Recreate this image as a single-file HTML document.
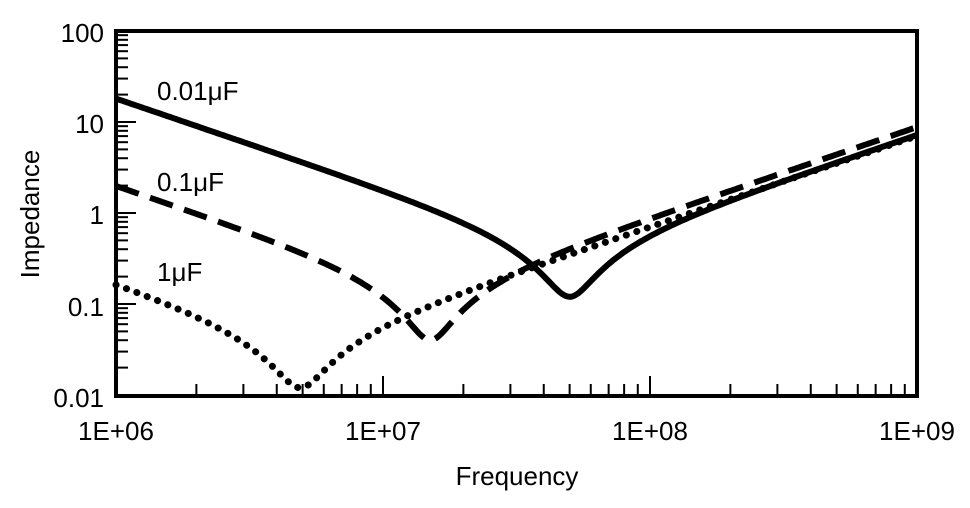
<!DOCTYPE html>
<html><head><meta charset="utf-8"><style>
body{margin:0;background:#fff}
svg text{font-family:"Liberation Sans",Arial,sans-serif;fill:#000;font-size:26px}
</style></head><body>
<svg id="s" width="970" height="503" viewBox="0 0 970 503" xmlns="http://www.w3.org/2000/svg">
<rect x="116" y="31" width="801" height="365" fill="none" stroke="#000" stroke-width="4"/>
<g id="ticks" stroke="#000" stroke-width="2"></g>
<g text-anchor="end">
<text x="104" y="42">100</text>
<text x="104" y="133">10</text>
<text x="104" y="224">1</text>
<text x="104" y="316">0.1</text>
<text x="104" y="407">0.01</text>
</g>
<g text-anchor="middle">
<text x="116" y="440">1E+06</text>
<text x="383" y="440">1E+07</text>
<text x="650" y="440">1E+08</text>
<text x="917" y="440">1E+09</text>
<text x="517" y="485">Frequency</text>
</g>
<text text-anchor="middle" transform="translate(39,214) rotate(-90)">Impedance</text>
<g>
<text x="157" y="100">0.01μF</text>
<text x="157" y="191">0.1μF</text>
<text x="157" y="281">1μF</text>
</g>
<g id="curves" fill="none" stroke="#000" stroke-width="6"></g>
</svg>
<script>
var X=function(f){return 116+(Math.log10(f)-6)*267};
var Y=function(z){return 213-Math.log10(z)*91};
var t=document.getElementById('ticks'),h='';
for(var d=6;d<9;d++)for(var k=1;k<10;k++){var x=X(k*Math.pow(10,d));var L=k==1?20:12;h+='<line x1="'+x+'" y1="396" x2="'+x+'" y2="'+(396-L)+'"/>';}
for(var d=-2;d<2;d++)for(var k=1;k<10;k++){var y=Y(k*Math.pow(10,d));var L=k==1?20:12;h+='<line x1="116" y1="'+y+'" x2="'+(116+L)+'" y2="'+y+'"/>';}
t.innerHTML=h;
function path(C,Lh,R){var p='';for(var i=0;i<=400;i++){var f=Math.pow(10,6+3*i/400);var w=2*Math.PI*f;var Xc=w*Lh-1/(w*C);var z=Math.sqrt(R*R+Xc*Xc);var y=Math.min(Y(z),392);p+=(i?'L':'M')+X(f).toFixed(1)+','+y.toFixed(1);}return p;}
var c=document.getElementById('curves');
c.innerHTML='<path d="'+path(8.8e-9,1.15e-9,0.12)+'"/>'+
'<path d="'+path(8e-8,1.4e-9,0.04)+'" stroke-dasharray="24 12"/>'+
'<path d="'+path(9.4e-7,1.12e-9,0.012)+'" stroke-dasharray="0.1 11" stroke-width="7" stroke-linecap="round"/>';
</script>
</body></html>
